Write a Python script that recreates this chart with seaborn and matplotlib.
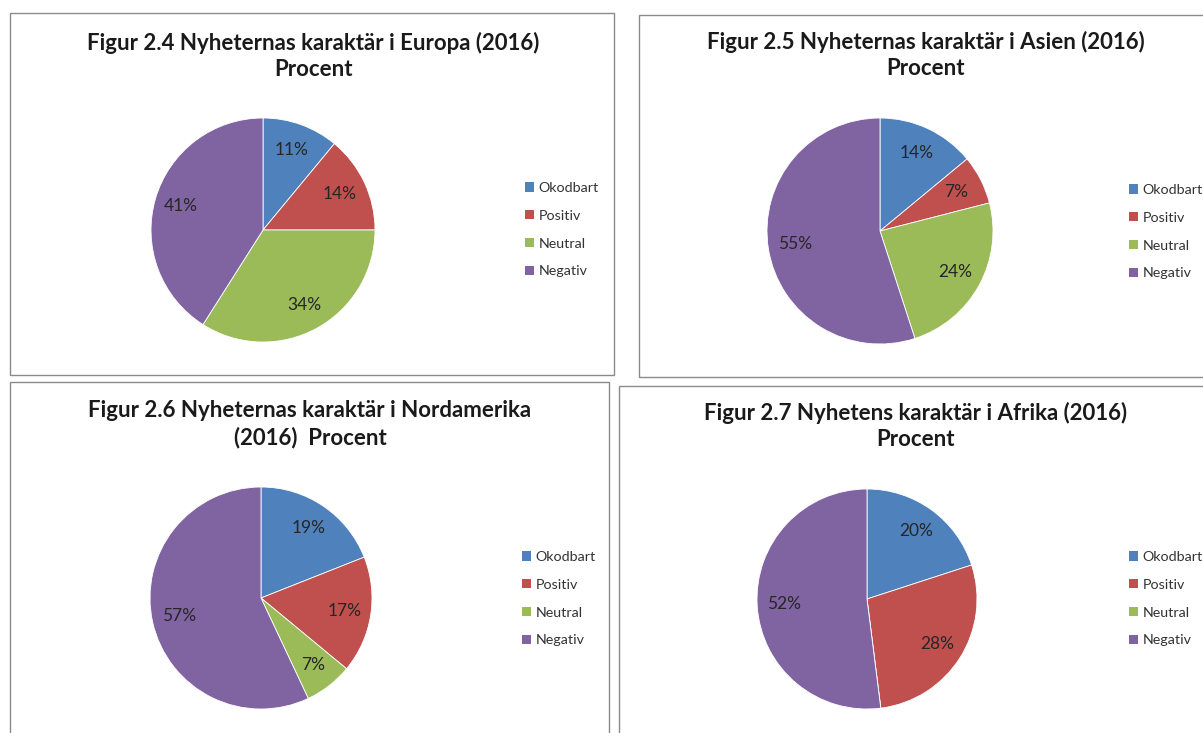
import matplotlib
matplotlib.use("Agg")
import matplotlib.pyplot as plt
import seaborn as sns
from matplotlib.patches import Rectangle, Patch

sns.set_theme(style="white")
plt.rcParams['font.family'] = ['Lato', 'DejaVu Sans']

categories = ["Okodbart", "Positiv", "Neutral", "Negativ"]
colors = ["#4F81BD", "#C0504D", "#9BBB59", "#8064A2"]

titles = [
    "Figur 2.4 Nyheternas karaktär i Europa (2016)\nProcent",
    "Figur 2.5 Nyheternas karaktär i Asien (2016)\nProcent",
    "Figur 2.6 Nyheternas karaktär i Nordamerika\n(2016)  Procent",
    "Figur 2.7 Nyhetens karaktär i Afrika (2016)\nProcent",
]
europa = [11, 14, 34, 41]
asien = [14, 7, 24, 55]
nordamerika = [19, 17, 7, 57]
afrika = [20, 28, 0, 52]
series = [europa, asien, nordamerika, afrika]

W, H = 1203, 733
fig = plt.figure(figsize=(W / 100, H / 100), dpi=100)
fig.patch.set_facecolor("white")

# panel boxes (x0, y0, x1, y1) in pixels, top-left origin
boxes = [(10, 13, 614, 375), (639, 15, 1215, 377),
         (10, 382, 609, 745), (619, 386, 1215, 745)]
# pie centers & radius
pies = [(263, 230, 112), (880, 231, 113), (261, 598, 111), (867, 599, 110)]
title_pos = [(313, 56), (926, 55), (310, 424), (916, 426)]
legend_pos = [(518, 175), (1122, 177), (515, 544), (1122, 544)]

for (x0, y0, x1, y1) in boxes:
    fig.patches.append(Rectangle((x0 / W, 1 - y1 / H), (x1 - x0) / W, (y1 - y0) / H,
                                 transform=fig.transFigure, fill=False,
                                 edgecolor="#8a8a8a", linewidth=1.0))

for i in range(4):
    cx, cy, r = pies[i]
    ax = fig.add_axes([(cx - r) / W, 1 - (cy + r) / H, 2 * r / W, 2 * r / H])
    vals = series[i]
    wedges, texts, autotexts = ax.pie(
        vals, colors=colors, startangle=90, counterclock=False,
        autopct=lambda p: f"{p:.0f}%" if p > 0.5 else "",
        pctdistance=0.76,
        wedgeprops=dict(edgecolor="white", linewidth=0.6),
        textprops=dict(fontsize=12.5, color="#262626"))
    ax.set_xlim(-1.0, 1.0)
    ax.set_ylim(-1.0, 1.0)
    ax.set_aspect("equal")
    ax.axis("off")

    tx, ty = title_pos[i]
    fig.text(tx / W, 1 - ty / H, titles[i], ha="center", va="center",
             fontsize=16, fontweight="bold", color="#1a1a1a", linespacing=1.3)

    lx, ly = legend_pos[i]
    handles = [Patch(facecolor=c, edgecolor="none") for c in colors]
    fig.legend(handles, categories, loc="upper left",
               bbox_to_anchor=(lx / W, 1 - ly / H), frameon=False,
               fontsize=10.3, handlelength=0.62, handleheight=0.62,
               handletextpad=0.3, labelspacing=1.1, borderpad=0,
               labelcolor="#333333")

fig.savefig("out.png", dpi=100, facecolor="white")
